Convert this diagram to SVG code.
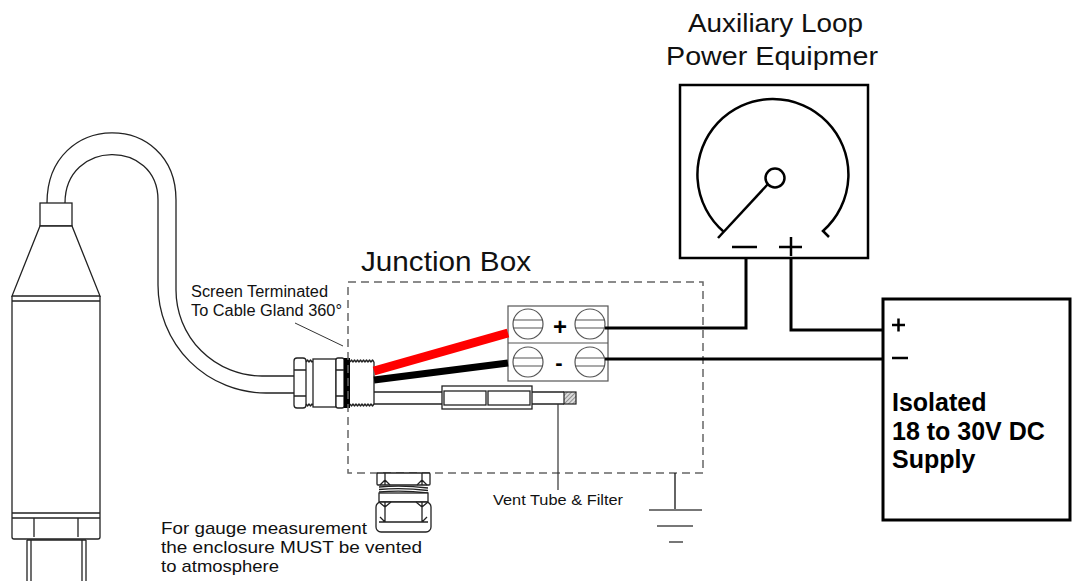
<svg xmlns="http://www.w3.org/2000/svg" width="1073" height="581" viewBox="0 0 1073 581">
<style>
.ln{fill:none;stroke:#222;stroke-width:1.3;stroke-linejoin:round}
.wh{fill:#fff;stroke:#222;stroke-width:1.3}
.wire{fill:none;stroke:#000;stroke-width:3}
.txt{font-family:"Liberation Sans",Arial,sans-serif;fill:#111}
.bold{font-family:"Liberation Sans",Arial,sans-serif;font-weight:bold;fill:#000}
.term{fill:#fff;stroke:#555;stroke-width:1.2}
</style>
<defs>
<pattern id="hatch" width="3" height="3" patternUnits="userSpaceOnUse" patternTransform="rotate(45)">
<rect width="3" height="3" fill="#ddd"/><line x1="0" y1="0" x2="0" y2="3" stroke="#444" stroke-width="1"/>
</pattern>
</defs>
<rect width="1073" height="581" fill="#fff"/>

<g id="sensor">
<path class="ln" d="M47,203 C47,110 176,110 176,200 V290 A86,86 0 0 0 262,376 H294"/>
<path class="ln" d="M65,203 C65,139 158,139 158,200 V285 A108,108 0 0 0 266,393 H294"/>
<rect class="wh" x="40" y="203" width="32" height="23"/>
<path class="wh" d="M40,226 L12,296 H100 L72,226 Z"/>
<path class="ln" d="M12,296 V537 Q12,539 14,539 H98 Q100,539 100,537 V296 M12,301 H100 M12,513 H100 M12,518 H100 M34,518 V537 M78,518 V537"/>
<path class="ln" d="M27,540 V581 M86,540 V581 M31,540 V581 M82,540 V581 M27,540 H86"/>
</g>

<g id="cable-gland">
<rect class="wh" x="294" y="358" width="12" height="50" rx="3"/>
<path class="ln" d="M294,370 H306 M294,396 H306"/>
<polyline class="ln" points="306,362 307.5,360 309,362 310.5,360 312,362 313,361"/>
<polyline class="ln" points="306,404 307.5,406 309,404 310.5,406 312,404 313,405"/>
<rect class="wh" x="313" y="359" width="23" height="48"/>
<rect class="wh" x="336" y="358" width="8" height="50" rx="2"/>
<path class="ln" d="M336,370 H344 M336,396 H344"/>
<rect x="344" y="358" width="6" height="50" fill="#000"/>
<path class="ln" d="M374,362 V404"/>
<polyline class="ln" points="350,362 351.5,360 353,362 354.5,360 356,362 357.5,360 359,362 360.5,360 362,362 363.5,360 365,362 366.5,360 368,362 369.5,360 371,362 372.5,360 374,362"/>
<polyline class="ln" points="350,404 351.5,406 353,404 354.5,406 356,404 357.5,406 359,404 360.5,406 362,404 363.5,406 365,404 366.5,406 368,404 369.5,406 371,404 372.5,406 374,404"/>
</g>

<g id="junction-box">
<rect x="348" y="282" width="355" height="191" fill="none" stroke="#666" stroke-width="1.5" stroke-dasharray="8 5"/>
<text class="txt" x="361" y="271" font-size="28" textLength="170" lengthAdjust="spacingAndGlyphs">Junction Box</text>
</g>

<g id="bottom-gland">
<rect class="wh" x="377" y="473" width="53" height="12" rx="1"/>
<path class="ln" d="M385,473 V485 M422,473 V485 M380,485 L385,480 L390,485 M417,485 L422,480 L427,485"/>
<path class="ln" d="M379,487 Q403,485 428,488 M379,489.5 Q403,487.5 428,490.5 M379,492 Q403,490 428,493"/>
<rect class="wh" x="379" y="493" width="49" height="9"/>
<rect class="wh" x="376" y="502" width="55" height="30" rx="5"/>
<path class="ln" d="M385,502 V522 M422,502 V522 M379,502 L385,507 L391,502 M416,502 L422,507 L428,502 M379,522 H428 M380,517 L385,522 M427,517 L422,522"/>
</g>

<g id="terminal-block">
<rect class="term" x="508" y="306" width="100" height="75"/>
<line x1="508" y1="343" x2="608" y2="343" stroke="#555" stroke-width="1.2"/>
<circle class="term" cx="528" cy="324" r="15"/>
<circle class="term" cx="590" cy="324" r="15"/>
<circle class="term" cx="528" cy="362" r="15"/>
<circle class="term" cx="590" cy="362" r="15"/>
<path stroke="#555" stroke-width="1.2" d="M513,320 H543 M513,328 H543 M575,320 H605 M575,328 H605 M513,358 H543 M513,366 H543 M575,358 H605 M575,366 H605"/>
<text class="bold" x="560" y="335" font-size="24" text-anchor="middle">+</text>
<text class="bold" x="559" y="370" font-size="22" text-anchor="middle" fill="#3a2a10">-</text>
</g>

<g id="vent-tube">
<path class="ln" d="M374,392 H564 M374,404 H564"/>
<rect class="wh" x="442" y="386" width="90" height="23"/>
<rect class="wh" x="444" y="391" width="42" height="14"/>
<rect class="wh" x="488" y="391" width="42" height="14"/>
<rect x="564" y="392" width="12" height="12" fill="url(#hatch)" stroke="#222" stroke-width="1.2"/>
</g>

<g id="gauge">
<rect x="680" y="85" width="188" height="173" fill="#fff" stroke="#000" stroke-width="2.5"/>
<path fill="none" stroke="#000" stroke-width="2.5" d="M724,232 A75.5,75.5 0 1 1 823,231 L829,237"/>
<circle cx="775" cy="178" r="9.5" fill="#fff" stroke="#000" stroke-width="2.5"/>
<line x1="768" y1="184" x2="718" y2="238" stroke="#000" stroke-width="2.5"/>
<path stroke="#000" stroke-width="2.5" d="M732,247 H757 M779,247 H802 M791,237 V256"/>
</g>

<g id="supply">
<rect x="883" y="299" width="187" height="221" fill="#fff" stroke="#000" stroke-width="3"/>
<path stroke="#000" stroke-width="2.5" d="M892,325 H905 M898.5,318.5 V331.5 M892,358 H908"/>
<text class="bold" x="892" y="411" font-size="25">Isolated</text>
<text class="bold" x="892" y="440" font-size="25">18 to 30V DC</text>
<text class="bold" x="892" y="468" font-size="25">Supply</text>
</g>

<g id="ground">
<line x1="675" y1="473" x2="675" y2="510" stroke="#111" stroke-width="1.3"/>
<path stroke="#777" stroke-width="2" d="M649,510 H702 M657,526 H693 M669,542 H683"/>
</g>

<g id="connectors">
<line x1="374" y1="371" x2="508" y2="333" stroke="#f00" stroke-width="9"/>
<line x1="374" y1="380" x2="508" y2="363" stroke="#000" stroke-width="7"/>
<path class="wire" d="M605,328 H746 V258"/>
<path class="wire" d="M791,258 V330 H883"/>
<path class="wire" d="M605,359 H883"/>
<line x1="295" y1="323" x2="343" y2="346" stroke="#333" stroke-width="1"/>
<line x1="558" y1="404" x2="558" y2="490" stroke="#333" stroke-width="1.2"/>
</g>

<g id="labels">
<text class="txt" x="688" y="32" font-size="26" textLength="175" lengthAdjust="spacingAndGlyphs">Auxiliary Loop</text>
<text class="txt" x="666" y="65" font-size="26" textLength="212" lengthAdjust="spacingAndGlyphs">Power Equipmer</text>
<text class="txt" x="191" y="297" font-size="16" textLength="137" lengthAdjust="spacingAndGlyphs">Screen Terminated</text>
<text class="txt" x="191" y="316" font-size="16" textLength="151" lengthAdjust="spacingAndGlyphs">To Cable Gland 360°</text>
<text class="txt" x="493" y="505" font-size="15" textLength="130" lengthAdjust="spacingAndGlyphs">Vent Tube &amp; Filter</text>
<text class="txt" x="161" y="534" font-size="17" textLength="206" lengthAdjust="spacingAndGlyphs">For gauge measurement</text>
<text class="txt" x="161" y="553" font-size="17" textLength="261" lengthAdjust="spacingAndGlyphs">the enclosure MUST be vented</text>
<text class="txt" x="161" y="572" font-size="17" textLength="118" lengthAdjust="spacingAndGlyphs">to atmosphere</text>
</g>
</svg>
